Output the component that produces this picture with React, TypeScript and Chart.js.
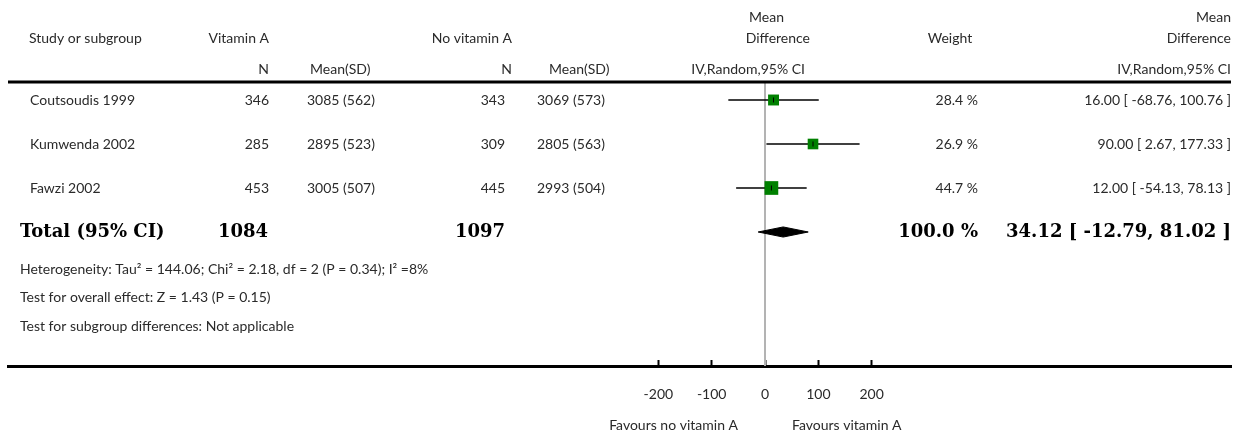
import React, { useEffect, useRef } from 'react';
import { Chart, registerables } from 'chart.js';

Chart.register(...registerables);

// ---- data ----
const studies = ['Coutsoudis 1999', 'Kumwenda 2002', 'Fawzi 2002'];
const nVitA = [346, 285, 453];
const meanSdVitA = ['3085 (562)', '2895 (523)', '3005 (507)'];
const nNoVitA = [343, 309, 445];
const meanSdNoVitA = ['3069 (573)', '2805 (563)', '2993 (504)'];
const weights = [28.4, 26.9, 44.7];
const meanDiff = [16.0, 90.0, 12.0];
const ciLow = [-68.76, 2.67, -54.13];
const ciHigh = [100.76, 177.33, 78.13];
const totalN = [1084, 1097];
const totalWeight = 100.0;
const totalMd = 34.12;
const totalLow = -12.79;
const totalHigh = 81.02;
const tickValues = [-200, -100, 0, 100, 200];
const footLines = [
  'Heterogeneity: Tau\u00B2 = 144.06; Chi\u00B2 = 2.18, df = 2 (P = 0.34); I\u00B2 =8%',
  'Test for overall effect: Z = 1.43 (P = 0.15)',
  'Test for subgroup differences: Not applicable',
];
const favourLeft = 'Favours no vitamin A';
const favourRight = 'Favours vitamin A';

// ---- layout ----
const W = 1239;
const H = 435;
const XMIN = -1419.4;
const XMAX = 873.75;
const YMIN = -2.2727;
const YMAX = 6.0455;
const SANS = 'Lato, "Open Sans", sans-serif';
const SERIF = '"DejaVu Serif", "Liberation Serif", serif';
const TEXT = '#2a2a2a';
const FS = 14;

const fmt = (m: number, lo: number, hi: number) =>
  `${m.toFixed(2)} [ ${lo.toFixed(2)}, ${hi.toFixed(2)} ]`;

export default function App() {
  const ref = useRef<HTMLCanvasElement | null>(null);

  useEffect(() => {
    if (!ref.current) return;
    const ciSets = studies.map((_, i) => ({
      type: 'scatter' as const,
      data: [
        { x: ciLow[i], y: i },
        { x: ciHigh[i], y: i },
      ],
      showLine: true,
      borderColor: '#000',
      borderWidth: 1.5,
      pointRadius: 0,
      order: 3,
    }));
    const squares = {
      type: 'scatter' as const,
      data: meanDiff.map((m, i) => ({ x: m, y: i })),
      pointStyle: 'rect' as const,
      pointRadius: weights.map((w) => (2.05 * Math.sqrt(w)) / Math.SQRT2),
      backgroundColor: '#008000',
      borderWidth: 0,
      order: 2,
    };
    const centers = {
      type: 'scatter' as const,
      data: meanDiff.map((m, i) => ({ x: m, y: i })),
      pointStyle: 'line' as const,
      rotation: 90,
      pointRadius: 2.5,
      borderColor: '#000',
      borderWidth: 1,
      order: 1,
    };
    const dh = 0.115;
    const diamond = {
      type: 'scatter' as const,
      data: [
        { x: totalLow, y: 3 },
        { x: totalMd, y: 3 - dh },
        { x: totalHigh, y: 3 },
        { x: totalMd, y: 3 + dh },
        { x: totalLow, y: 3 },
      ],
      showLine: true,
      fill: 'shape',
      backgroundColor: '#000',
      borderColor: '#000',
      borderWidth: 1,
      pointRadius: 0,
      order: 1,
    };

    const textPlugin = {
      id: 'forestText',
      beforeDatasetsDraw(chart: any) {
        const ctx = chart.ctx;
        const xs = chart.scales.x;
        const x0 = xs.getPixelForValue(0);
        ctx.save();
        ctx.strokeStyle = '#b3b3b3';
        ctx.lineWidth = 2;
        ctx.beginPath();
        ctx.moveTo(x0, 82);
        ctx.lineTo(x0, chart.chartArea.bottom);
        ctx.stroke();
        ctx.restore();
      },
      afterDraw(chart: any) {
        const ctx = chart.ctx;
        const xs = chart.scales.x;
        const ys = chart.scales.y;
        ctx.save();
        // header rule
        ctx.strokeStyle = '#000';
        ctx.lineWidth = 3;
        ctx.beginPath();
        ctx.moveTo(8, 82);
        ctx.lineTo(1231, 82);
        ctx.stroke();

        const t = (s: string, x: number, y: number, align: CanvasTextAlign, font = `${FS}px ${SANS}`, color = TEXT) => {
          ctx.font = font;
          ctx.fillStyle = color;
          ctx.textAlign = align;
          ctx.textBaseline = 'middle';
          ctx.fillText(s, x, y);
        };
        // headers
        t('Study or subgroup', 29, 38, 'left');
        t('Vitamin A', 269, 38, 'right');
        t('No vitamin A', 512, 38, 'right');
        t('Mean', 784, 17, 'right');
        t('Difference', 810, 38, 'right');
        t('Weight', 950, 38, 'center');
        t('Mean', 1231, 17, 'right');
        t('Difference', 1231, 38, 'right');
        t('N', 269, 69, 'right');
        t('Mean(SD)', 310, 69, 'left');
        t('N', 512, 69, 'right');
        t('Mean(SD)', 549, 69, 'left');
        t('IV,Random,95% CI', 805, 69, 'right');
        t('IV,Random,95% CI', 1231, 69, 'right');

        studies.forEach((s, i) => {
          const y = ys.getPixelForValue(i);
          t(s, 30, y, 'left');
          t(String(nVitA[i]), 269, y, 'right');
          t(meanSdVitA[i], 307, y, 'left');
          t(String(nNoVitA[i]), 505, y, 'right');
          t(meanSdNoVitA[i], 537, y, 'left');
          t(`${weights[i].toFixed(1)} %`, 978, y, 'right');
          t(fmt(meanDiff[i], ciLow[i], ciHigh[i]), 1231, y, 'right');
        });
        const yt = ys.getPixelForValue(3);
        const bold = `bold 18px ${SERIF}`;
        t('Total (95% CI)', 20, yt, 'left', bold, '#000');
        t(String(totalN[0]), 268, yt, 'right', bold, '#000');
        t(String(totalN[1]), 505, yt, 'right', bold, '#000');
        t(`${totalWeight.toFixed(1)} %`, 978, yt, 'right', bold, '#000');
        t(fmt(totalMd, totalLow, totalHigh), 1231, yt, 'right', bold, '#000');

        footLines.forEach((s, i) => t(s, 20, 269 + i * 28.5, 'left'));

        const x0 = xs.getPixelForValue(0);
        t(favourLeft, x0 - 27, 425, 'right');
        t(favourRight, x0 + 27, 425, 'left');
        ctx.restore();
      },
    };

    const chart = new Chart(ref.current, {
      type: 'scatter',
      data: { datasets: [...ciSets, squares, centers, diamond] as any },
      options: {
        responsive: false,
        animation: false,
        devicePixelRatio: 1,
        layout: { autoPadding: false, padding: { left: 8, right: 8, top: 0, bottom: 0 } },
        plugins: { legend: { display: false }, tooltip: { enabled: false } },
        scales: {
          x: {
            type: 'linear',
            min: XMIN,
            max: XMAX,
            afterBuildTicks: (s: any) => {
              s.ticks = tickValues.map((v) => ({ value: v }));
            },
            afterFit: (s: any) => {
              s.height = H - 366;
            },
            border: { display: true, color: '#000', width: 3 },
            grid: {
              drawOnChartArea: false,
              drawTicks: true,
              tickLength: -6,
              tickWidth: 2,
              tickColor: '#000',
            },
            ticks: {
              padding: 26,
              autoSkip: false,
              maxRotation: 0,
              font: { family: SANS, size: FS },
              color: TEXT,
              callback: (v: any) => String(v),
            },
          },
          y: {
            type: 'linear',
            display: false,
            reverse: true,
            min: YMIN,
            max: YMAX,
          },
        },
      },
      plugins: [textPlugin],
    });
    return () => chart.destroy();
  }, []);

  return (
    <div style={{ position: 'absolute', left: 0, top: 0, width: W, height: H, background: '#fff' }}>
      <canvas ref={ref} width={W} height={H} />
    </div>
  );
}
